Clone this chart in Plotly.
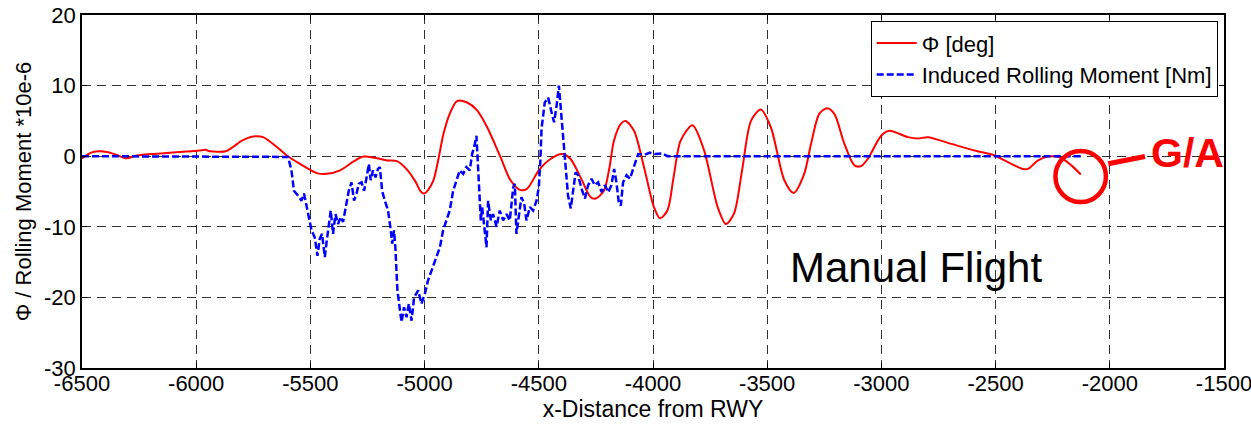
import plotly.graph_objects as go

# Roll angle Phi [deg]
phi_x = [-6500, -6460, -6430, -6390, -6350, -6305, -6260, -6200, -6130, -6043, -5985, -5960, -5940, -5870,
         -5839, -5800, -5750, -5707, -5647, -5603, -5545, -5472, -5428, -5370, -5311, -5268, -5209, -5165,
         -5121, -5077, -5040, -5019, -5004, -4985, -4961, -4940, -4917, -4890, -4858, -4814, -4770, -4726,
         -4668, -4624, -4580, -4551, -4500, -4449, -4397, -4361, -4317, -4273, -4251, -4215, -4190, -4171,
         -4140, -4120, -4083, -4039, -3996, -3969, -3937, -3910, -3879, -3827, -3776, -3717, -3681, -3645,
         -3610, -3571, -3528, -3484, -3425, -3384, -3338, -3308, -3272, -3238, -3206, -3162, -3118, -3089,
         -3060, -3001, -2965, -2884, -2840, -2797, -2694, -2592, -2504, -2446, -2380, -2358, -2314, -2270,
         -2219, -2168, -2127]
phi_y = [-0.3, 0.5, 0.7, 0.6, 0.2, -0.3, 0.1, 0.3, 0.45, 0.65, 0.8, 0.9, 0.7, 0.7,
         1.3, 2.2, 2.8, 2.7, 1.3, 0.1, -1.1, -2.4, -2.5, -2.0, -0.75, -0.05, -0.3, -0.6,
         -0.7, -1.9, -3.6, -4.9, -5.3, -4.8, -3.4, -0.5, 3.2, 6.0, 7.8, 7.6, 6.5, 4.1,
         -0.1, -3.4, -4.8, -4.6, -2.0, -0.4, 0.3, -0.4, -3.0, -5.8, -6.0, -4.9, -1.5, 2.2,
         4.6, 5.0, 3.6, -1.6, -7.2, -8.8, -7.7, -3.0, 2.2, 4.4, 0.8, -7.2, -9.6, -8.1,
         -2.0, 5.0, 6.6, 4.1, -3.4, -5.2, -2.5, 1.75, 6.0, 6.8, 6.0, 1.75, -1.3, -1.4,
         -0.4, 2.9, 3.6, 2.7, 2.5, 2.7, 1.75, 0.8, 0.1, -0.85, -1.8, -1.8, -0.6, -0.05,
         -0.15, -1.3, -2.6]

# Induced rolling moment [Nm] (*10e-6)
rm_x = [-6500, -5604, -5598, -5583, -5572, -5554, -5539, -5528, -5516, -5507, -5495, -5481, -5469, -5459,
        -5449, -5437, -5428, -5420, -5411, -5401, -5390, -5379, -5367, -5357, -5342, -5332, -5320, -5309,
        -5298, -5288, -5276, -5265, -5254, -5244, -5236, -5226, -5215, -5204, -5196, -5186, -5174, -5160,
        -5148, -5142, -5134, -5128, -5119, -5109, -5101, -5090, -5079, -5069, -5057, -5046, -5028, -5014,
        -4999, -4985, -4963, -4948, -4933, -4919, -4904, -4890, -4875, -4860, -4846, -4831, -4817, -4802,
        -4792, -4780, -4773, -4763, -4754, -4748, -4736, -4729, -4722, -4710, -4700, -4685, -4671, -4656,
        -4641, -4627, -4612, -4605, -4598, -4587, -4576, -4564, -4554, -4539, -4525, -4510, -4500, -4493,
        -4488, -4474, -4459, -4444, -4433, -4422, -4412, -4400, -4389, -4379, -4372, -4360, -4350, -4339,
        -4328, -4313, -4298, -4284, -4269, -4255, -4240, -4225, -4211, -4196, -4182, -4170, -4160, -4150,
        -4141, -4131, -4116, -4101, -4087, -4072, -4065, -4036, -4014, -3990, -3960, -3937, -2127]
rm_y = [0, 0, -0.1, -2.0, -4.9, -5.6, -6.3, -5.3, -7.0, -8.6, -10.5, -11.5, -14.1, -11.7,
        -11.0, -14.3, -11.9, -10.0, -7.7, -11.0, -8.2, -9.6, -8.6, -9.3, -6.7, -4.9, -3.7, -6.3,
        -5.3, -3.9, -3.7, -4.9, -3.0, -1.1, -3.4, -2.0, -3.0, -1.8, -1.55, -4.9, -6.3, -7.7,
        -10.5, -12.4, -10.5, -12.9, -19.0, -21.8, -23.5, -21.4, -22.8, -20.9, -23.3, -20.0, -19.0, -20.9,
        -19.5, -17.6, -15.7, -14.3, -12.9, -10.5, -9.1, -7.7, -4.9, -3.4, -2.0, -2.5, -1.55, -2.0,
        0.3, 1.75, 2.9, -3.4, -9.1, -7.2, -11.0, -12.9, -6.3, -9.1, -8.2, -10.0, -7.7, -9.1,
        -8.2, -9.1, -4.4, -3.9, -11.0, -8.2, -5.8, -6.7, -9.1, -7.2, -7.7, -6.3, -4.4, -0.5,
        3.9, 7.6, 8.3, 6.2, 4.8, 7.2, 10.0, 5.3, 0.6, -2.7, -5.6, -7.4, -4.6, -2.3,
        -2.7, -4.6, -6.0, -4.1, -3.2, -4.1, -3.7, -5.1, -4.1, -5.1, -4.1, -1.8, -3.7, -6.5,
        -7.0, -3.7, -2.7, -3.2, -1.8, -0.4, 0.3, 0.2, 0.5, 0.3, 0.4, 0.0, 0.0]

x_ticks = [-6500, -6000, -5500, -5000, -4500, -4000, -3500, -3000, -2500, -2000, -1500]
y_ticks = [-30, -20, -10, 0, 10, 20]

FONT = "Liberation Sans, Arial, sans-serif"

fig = go.Figure()
fig.add_trace(go.Scatter(x=phi_x, y=phi_y, mode="lines", name="\u03a6 [deg]",
                         line=dict(color="#ff0000", width=2, shape="spline", smoothing=0.8)))
fig.add_trace(go.Scatter(x=rm_x, y=rm_y, mode="lines", name="Induced Rolling Moment [Nm]",
                         line=dict(color="#0000ff", width=2.5, dash="7px,3px")))

axis_common = dict(showgrid=True, gridcolor="#333333", griddash="9px,6px", gridwidth=1,
                   showline=True, linecolor="black", linewidth=1.5, mirror="ticks",
                   ticks="inside", ticklen=5, tickcolor="black", zeroline=False, automargin=False,
                   ticklabeloverflow="allow",
                   tickfont=dict(family=FONT, size=22, color="black"))

fig.update_xaxes(range=[-6500, -1500], tickvals=x_ticks, ticktext=[str(v) for v in x_ticks],
                 ticklabelstandoff=-5,
                 title=dict(text="x-Distance from RWY", font=dict(family=FONT, size=23, color="black"), standoff=4),
                 **axis_common)
fig.update_yaxes(range=[-30, 20], tickvals=y_ticks, ticktext=[str(v) for v in y_ticks],
                 title=dict(text="\u03a6 / Rolling Moment *10e-6", font=dict(family=FONT, size=22, color="black"), standoff=6),
                 **axis_common)

# G/A marker
fig.add_shape(type="circle", xref="x", yref="y", x0=-2238, x1=-2017, y0=-6.5, y1=0.75,
              line=dict(color="#ff0000", width=4.5))
fig.add_shape(type="line", xref="x", yref="y", x0=-2007, y0=-1.08, x1=-1846, y1=-0.04,
              line=dict(color="#ff0000", width=5))
fig.add_annotation(x=-1660, y=0.4, xref="x", yref="y", text="<b>G/A</b>", showarrow=False,
                   font=dict(family=FONT, size=41, color="#ff0000"))
fig.add_annotation(x=-2848, y=-15.7, xref="x", yref="y", text="Manual Flight", showarrow=False,
                   font=dict(family=FONT, size=42, color="black"))

fig.update_layout(
    width=1251, height=425,
    margin=dict(l=82, r=27, t=15, b=57),
    plot_bgcolor="white", paper_bgcolor="white",
    font=dict(family=FONT, color="black"),
    showlegend=True,
    legend=dict(x=0.9945, y=0.9825, xanchor="right", yanchor="top",
                bgcolor="white", bordercolor="black", borderwidth=1,
                font=dict(family=FONT, size=22, color="black"),
                tracegroupgap=0, itemwidth=40),
)

# remove the default 8px page margin so the figure fills the window exactly
fig.write_html("out.html", config={"displayModeBar": False},
               post_script="document.body.style.margin='0';")
